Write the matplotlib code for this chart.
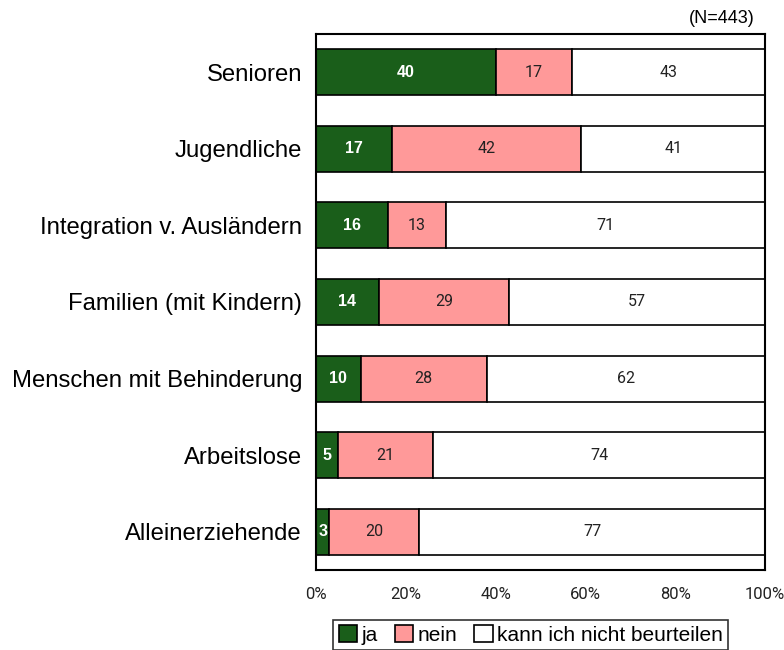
import numpy as np
import matplotlib.pyplot as plt

categories = ['Senioren', 'Jugendliche', 'Integration v. Ausländern', 'Familien (mit Kindern)',
              'Menschen mit Behinderung', 'Arbeitslose', 'Alleinerziehende']
ja = [40, 17, 16, 14, 10, 5, 3]
nein = [17, 42, 13, 29, 28, 21, 20]
kann_nicht = [43, 41, 71, 57, 62, 74, 77]
series_labels = ['ja', 'nein', 'kann ich nicht beurteilen']
colors = ['#1a5e1a', '#ff9999', '#ffffff']
text_colors = ['white', 'black', 'black']

plt.rcParams['font.family'] = ['Liberation Sans', 'DejaVu Sans']

fig = plt.figure(figsize=(7.84, 6.5), dpi=100)
ax = fig.add_axes([0.403, 0.123, 0.573, 0.825])

y = np.arange(len(categories))
left = np.zeros(len(categories))
for vals, lab, col, tc in zip([ja, nein, kann_nicht], series_labels, colors, text_colors):
    vals = np.array(vals, dtype=float)
    ax.barh(y, vals, left=left, height=0.6, color=col, edgecolor='black', linewidth=1.2, label=lab)
    for yi, l, v in zip(y, left, vals):
        if tc == 'white':
            ax.text(l + v / 2, yi, '%d' % v, ha='center', va='center', color=tc,
                    fontsize=11.5, fontweight='bold', family='Liberation Sans')
        else:
            ax.text(l + v / 2, yi, '%d' % v, ha='center', va='center', color='#222222',
                    fontsize=11.5, family='Roboto', fontweight='normal')
    left += vals

ax.set_xlim(0, 100)
ax.set_ylim(len(categories) - 0.5, -0.5)
ax.set_yticks(y)
ax.set_yticklabels(categories, fontsize=17.2)
ax.set_xticks(np.arange(0, 101, 20))
ax.set_xticklabels(['%d%%' % t for t in range(0, 101, 20)], fontsize=12,
                   family='Roboto', fontweight='normal', color='#222222')
ax.tick_params(axis='y', length=0, pad=10)
ax.tick_params(axis='x', length=0, pad=12)
for s in ax.spines.values():
    s.set_linewidth(1.5)

fig.text(0.963, 0.958, '(N=443)', ha='right', va='bottom', fontsize=13)

leg = ax.legend(loc='upper center', bbox_to_anchor=(0.478, -0.073), ncol=3, frameon=True,
                fancybox=False, edgecolor='black', fontsize=15, handlelength=0.9,
                handleheight=0.9, handletextpad=0.2, columnspacing=0.8, borderpad=0.25)
leg.get_frame().set_linewidth(1.2)
for h in leg.legend_handles:
    h.set_edgecolor('black')
    h.set_linewidth(1.2)

fig.savefig('out.png', dpi=100)
